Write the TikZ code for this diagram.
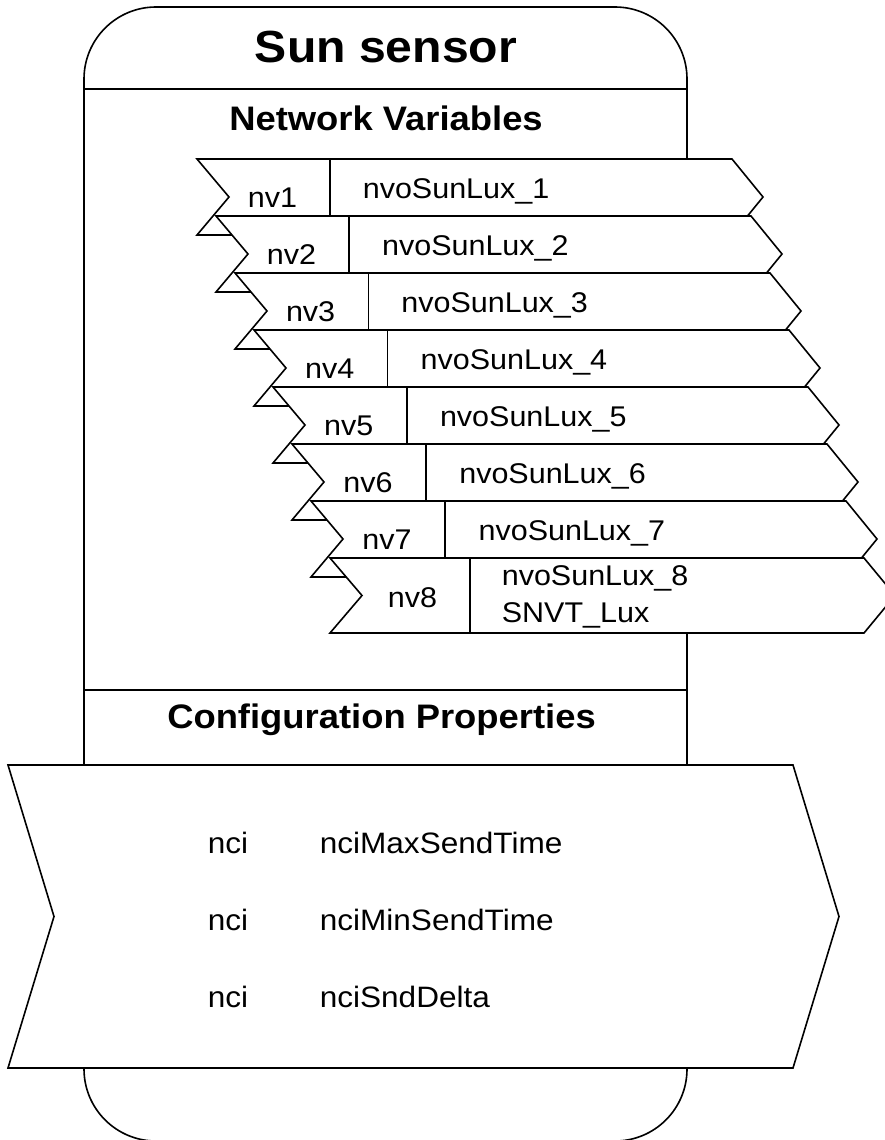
\documentclass[tikz,border=0pt]{standalone}
\usepackage{fontspec}
\setmainfont{Liberation Sans}[FakeStretch=1.07]
\begin{document}
\begin{tikzpicture}[x=1pt,y=-1pt,line width=1.6pt,line join=miter,
  shp/.style={draw,fill=white},
  lbl/.style={anchor=base west,inner sep=0pt,font=\fontsize{28.5}{34}\selectfont},
  ncitxt/.style={anchor=base west,inner sep=0pt,font=\fontsize{29.5}{35}\selectfont},
  hdr/.style={anchor=base,inner sep=0pt,font=\bfseries\fontsize{34}{40}\selectfont},
  ttl/.style={anchor=base,inner sep=0pt,font=\bfseries\fontsize{45}{54}\selectfont}]
\useasboundingbox (0,0) rectangle (885,1140);
\clip (0,0) rectangle (885,1140);
% outer device box
\draw[rounded corners=72pt] (84,7) rectangle (687,1141);
\draw (84,89) -- (687,89);
\draw (84,690) -- (687,690);
\node[ttl] (title) at (386,63) {Sun sensor};
\node[hdr] (nvhdr) at (386,130) {Network Variables};
% network variables 1..7
\foreach \i in {0,...,6}{
  \pgfmathsetmacro\L{197+19*\i}
  \pgfmathsetmacro\T{159+57*\i}
  \pgfmathsetmacro\B{\T+76}
  \pgfmathsetmacro\M{\T+38}
  \pgfmathsetmacro\R{732+19*\i}
  \pgfmathsetmacro\D{330+19.2*\i}
  \pgfmathsetmacro\LX{247+19.1*\i}
  \pgfmathsetmacro\LY{207+57*\i}
  \pgfmathsetmacro\NX{362+19.3*\i}
  \pgfmathsetmacro\NY{198+57*\i}
  \pgfmathtruncatemacro\n{\i+1}
  \draw[shp] (\L,\T) -- (\R,\T) -- (\R+31,\M) -- (\R,\B) -- (\L,\B) -- (\L+32,\M) -- cycle;
  \draw (\D,\T) -- (\D,\B);
  \node[lbl] (nv\n) at (\LX,\LY) {nv\n};
  \node[lbl] (nvname\n) at (\NX,\NY) {nvoSunLux\_\n};
}
% network variable 8
\draw[shp] (330,558) -- (864,558) -- (895,595.5) -- (864,633) -- (330,633) -- (362,595.5) -- cycle;
\draw (470,558) -- (470,633);
\node[lbl] (nv8) at (387,607) {nv8};
\node[lbl] (nvname8) at (501,585) {nvoSunLux\_8};
\node[lbl] (nvtype8) at (501,622) {SNVT\_Lux};
% configuration properties
\node[hdr] (cphdr) at (381.5,728) {Configuration Properties};
\draw[shp] (8,765) -- (793,765) -- (839,916.5) -- (793,1068) -- (8,1068) -- (54,916.5) -- cycle;
\node[ncitxt] (nci1) at (207,853) {nci};
\node[ncitxt] (nci2) at (207,930) {nci};
\node[ncitxt] (nci3) at (207,1007) {nci};
\node[ncitxt] (cp1) at (319,853) {nciMaxSendTime};
\node[ncitxt] (cp2) at (319,930) {nciMinSendTime};
\node[ncitxt] (cp3) at (319,1007) {nciSndDelta};
\end{tikzpicture}
\end{document}
